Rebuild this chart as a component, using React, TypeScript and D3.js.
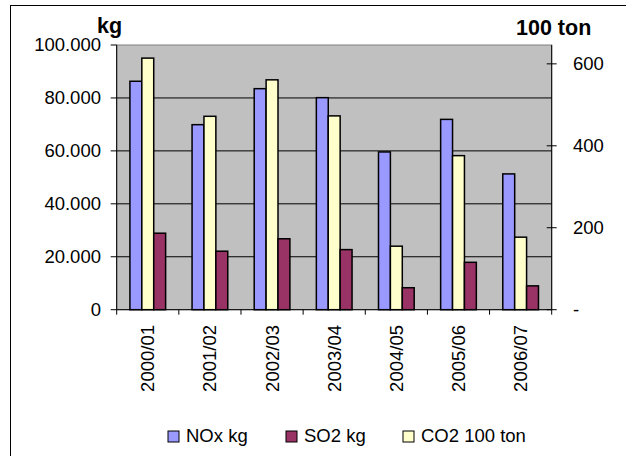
import React from 'react';
import * as d3 from 'd3';

const categories = ['2000/01', '2001/02', '2002/03', '2003/04', '2004/05', '2005/06', '2006/07'];
const noxKg = [86300, 69900, 83500, 80100, 59600, 71900, 51300];
const so2Kg = [28900, 22100, 26800, 22700, 8300, 17900, 9000];
const co2Ton = [614, 472, 561, 473, 155, 376, 177];
const leftTicks = [0, 20000, 40000, 60000, 80000, 100000];
const rightTicks = [0, 200, 400, 600];

const W = 626;
const H = 456;
const plot = { left: 116.7, right: 551.7, top: 45, bottom: 309.7 };
const font = '"Liberation Sans", Arial, sans-serif';

const fmtKg = (v: number) => (v === 0 ? '0' : d3.format(',')(v).replace(/,/g, '.'));

const App = () => {
  const x = d3.scaleBand().domain(categories).range([plot.left, plot.right]);
  const yL = d3.scaleLinear().domain([0, 100000]).range([plot.bottom, plot.top]);
  const yR = d3.scaleLinear().domain([0, 646]).range([plot.bottom, plot.top]);

  const barW = 11.9;
  const groupStart = (c: string) => (x(c) as number) + x.bandwidth() / 2 - barW * 1.5;

  // order inside a group: NOx, CO2, SO2
  const series = [
    { name: 'NOx kg', values: noxKg, scale: yL, color: '#9999FF', slot: 0 },
    { name: 'CO2 100 ton', values: co2Ton, scale: yR, color: '#FFFFCC', slot: 1 },
    { name: 'SO2 kg', values: so2Kg, scale: yL, color: '#993366', slot: 2 },
  ];

  const legend = [
    { name: 'NOx kg', color: '#9999FF', x: 168 },
    { name: 'SO2 kg', color: '#993366', x: 286 },
    { name: 'CO2 100 ton', color: '#FFFFCC', x: 403 },
  ];

  return (
    <svg
      width={W}
      height={H}
      style={{ position: 'absolute', left: 0, top: 0, background: '#fff' }}
      fontFamily={font}
    >
      {/* outer frame (only top and left visible) */}
      <line x1={10.5} x2={10.5} y1={5} y2={H} stroke="#000" />
      <line x1={10} x2={W} y1={5.5} y2={5.5} stroke="#000" />

      {/* plot area */}
      <rect
        x={plot.left}
        y={plot.top}
        width={plot.right - plot.left}
        height={plot.bottom - plot.top}
        fill="#C0C0C0"
        stroke="#808080"
      />

      {leftTicks.slice(1, -1).map(t => (
        <line key={t} x1={plot.left} x2={plot.right} y1={yL(t)} y2={yL(t)} stroke="#000" />
      ))}

      {series.map(s =>
        categories.map((c, i) => (
          <rect
            key={s.name + c}
            x={groupStart(c) + s.slot * barW}
            y={s.scale(s.values[i])}
            width={barW}
            height={plot.bottom - s.scale(s.values[i])}
            fill={s.color}
            stroke="#000"
            strokeWidth={1.5}
          />
        ))
      )}

      {/* axes */}
      <line x1={plot.left} x2={plot.left} y1={plot.top} y2={plot.bottom} stroke="#000" />
      <line x1={plot.left} x2={plot.right} y1={plot.bottom} y2={plot.bottom} stroke="#000" />
      <line x1={plot.right} x2={plot.right} y1={plot.top} y2={plot.bottom} stroke="#000" />

      {leftTicks.map(t => (
        <g key={t}>
          <line x1={plot.left - 6} x2={plot.left} y1={yL(t)} y2={yL(t)} stroke="#000" />
          <text x={101} y={yL(t)} dy="0.35em" textAnchor="end" fontSize={18.5} fill="#000">
            {fmtKg(t)}
          </text>
        </g>
      ))}

      {rightTicks.map(t => (
        <g key={t}>
          <line x1={plot.right - 5} x2={plot.right + 5} y1={yR(t)} y2={yR(t)} stroke="#000" />
          <text x={573} y={yR(t)} dy="0.35em" fontSize={18.5} fill="#000">
            {t === 0 ? '-' : t}
          </text>
        </g>
      ))}

      {[...categories.map(c => x(c) as number), plot.right].map((p, i) => (
        <line key={i} x1={p} x2={p} y1={plot.bottom} y2={plot.bottom + 5} stroke="#000" />
      ))}

      {categories.map(c => {
        const cx = (x(c) as number) + x.bandwidth() / 2;
        return (
          <text
            key={c}
            transform={`translate(${cx},325) rotate(-90)`}
            textAnchor="end"
            dy="0.35em"
            fontSize={18.5}
            fill="#000"
          >
            {c}
          </text>
        );
      })}

      <text x={97} y={33} fontSize={21.5} fontWeight="bold" fill="#000">kg</text>
      <text x={516} y={35} fontSize={21.5} fontWeight="bold" fill="#000">100 ton</text>

      {legend.map(l => (
        <g key={l.name}>
          <rect x={l.x} y={431} width={11} height={11} fill={l.color} stroke="#000" strokeWidth={1} />
          <text x={l.x + 18} y={442} fontSize={18.5} fill="#000">{l.name}</text>
        </g>
      ))}
    </svg>
  );
};

export default App;
